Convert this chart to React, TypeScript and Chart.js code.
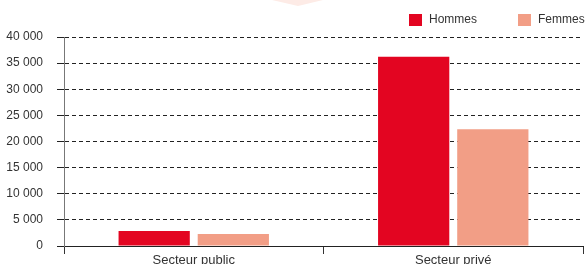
import React, { useEffect, useRef } from "react";
import { Chart, registerables } from "chart.js";

Chart.register(...registerables);

const categories = ["Secteur public", "Secteur privé"];
const seriesNames = ["Hommes", "Femmes"];
const hommes = [2850, 36200];
const femmes = [2300, 22350];
const colors = ["#E30521", "#F29E86"];
const yTicks = [0, 5000, 10000, 15000, 20000, 25000, 30000, 35000, 40000];

const FONT = "'Liberation Sans', Arial, sans-serif";

const fmt = (v: number) => String(v).replace(/\B(?=(\d{3})+(?!\d))/g, " ");

const decorPlugin = {
  id: "decor",
  beforeDraw(chart: any) {
    const ctx = chart.ctx;
    ctx.save();
    ctx.fillStyle = "#FDEBE6";
    ctx.beginPath();
    ctx.moveTo(272, 0);
    ctx.lineTo(323, 0);
    ctx.lineTo(298, 6);
    ctx.closePath();
    ctx.fill();
    ctx.restore();
  },
  afterDraw(chart: any) {
    const ctx = chart.ctx;
    ctx.save();
    ctx.font = `12px ${FONT}`;
    ctx.textBaseline = "middle";
    ctx.textAlign = "left";
    const items = [
      { x: 409, label: seriesNames[0], color: colors[0] },
      { x: 518, label: seriesNames[1], color: colors[1] },
    ];
    for (const it of items) {
      ctx.fillStyle = it.color;
      ctx.fillRect(it.x, 14, 13, 12);
      ctx.fillStyle = "#333";
      ctx.fillText(it.label, it.x + 20, 20);
    }
    ctx.restore();
  },
};

export default function App() {
  const ref = useRef<HTMLCanvasElement>(null);
  useEffect(() => {
    const chart = new Chart(ref.current!, {
      type: "bar",
      data: {
        labels: categories,
        datasets: [
          { label: seriesNames[0], data: hommes, backgroundColor: colors[0], categoryPercentage: 0.61, barPercentage: 0.9 },
          { label: seriesNames[1], data: femmes, backgroundColor: colors[1], categoryPercentage: 0.61, barPercentage: 0.9 },
        ],
      },
      options: {
        animation: false,
        responsive: true,
        maintainAspectRatio: false,
        layout: { padding: { top: 37, right: 3, left: 0, bottom: 0 } },
        plugins: { legend: { display: false }, tooltip: { enabled: false } },
        scales: {
          x: {
            grid: { offset: true, drawOnChartArea: false, tickLength: 8, color: "#333" },
            border: { color: "#222", width: 1 },
            ticks: { font: { family: FONT, size: 13 }, color: "#333", padding: -1 },
            afterFit: (s: any) => {
              s.height = 18;
            },
          },
          y: {
            min: 0,
            max: 40000,
            afterBuildTicks: (s: any) => { s.ticks = yTicks.map((v) => ({ value: v })); },
            grid: { color: "#222", tickLength: 7, tickBorderDash: [], lineWidth: 1 },
            border: { color: "#777", width: 1, dash: [4, 3] },
            ticks: {
              font: { family: FONT, size: 12 },
              color: "#333",
              padding: 14,
              callback: (v: any) => fmt(Number(v)),
            },
            afterFit: (s: any) => {
              s.width = 64;
              s.paddingTop = 0;
              s.paddingBottom = 0;
            },
          },
        },
      },
      plugins: [decorPlugin],
    });
    return () => chart.destroy();
  }, []);
  return (
    <div style={{ position: "fixed", left: 0, top: 0, width: 586, height: 264, background: "#fff" }}>
      <canvas ref={ref} />
    </div>
  );
}
